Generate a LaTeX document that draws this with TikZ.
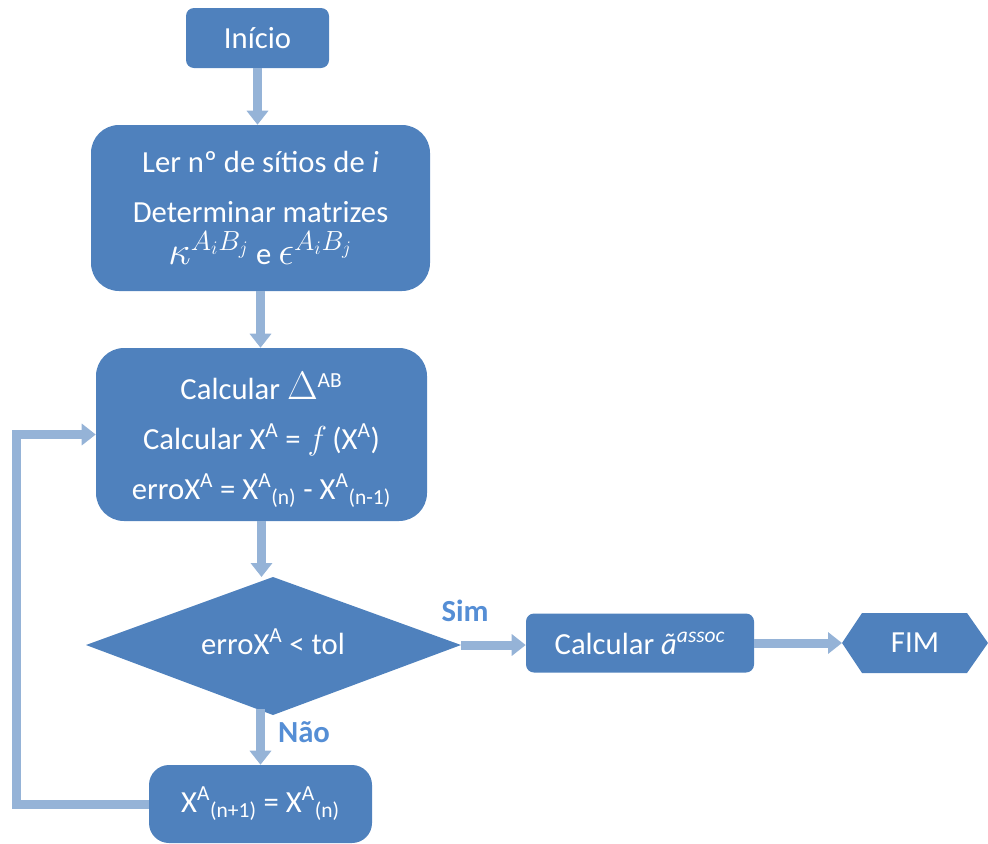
\documentclass[tikz,border=0pt]{standalone}
\usepackage{graphicx}
\usepackage{fontspec}
\setmainfont{Carlito}
\usetikzlibrary{arrows.meta}
\definecolor{boxblue}{HTML}{4F81BD}
\definecolor{arrowblue}{HTML}{95B3D7}
\definecolor{labelblue}{HTML}{558ED5}
\newcommand{\lgmath}[1]{\scalebox{1.2}{$#1$}}
\begin{document}
\begin{tikzpicture}[x=0.75pt,y=-0.75pt,
  box/.style={rectangle, rounded corners=#1, fill=boxblue, text=white, align=center, inner sep=0pt, font=\fontsize{23}{37.5}\selectfont},
  txt/.style={text=white, inner sep=0pt, font=\fontsize{23}{28}\selectfont},
  lab/.style={text=labelblue, inner sep=0pt, font=\fontsize{23}{28}\selectfont\bfseries},
  arr/.style={draw=arrowblue, line width=6.75pt, -{Triangle[width=15.75pt,length=10.5pt]}}]
\useasboundingbox (0,0) rectangle (988,843);
% nodes
\node[box=6pt, minimum width=107.25pt, minimum height=45pt] (ini) at (257.5,38) {\raisebox{-2.5pt}{Início}};
\node[box=21pt, minimum width=254.25pt, minimum height=124.5pt] (ler) at (260.5,208)
  {Ler nº de sítios de \textit{i}\\Determinar matrizes\\[-6pt]\lgmath{\kappa^{A_iB_j}} e \lgmath{\epsilon^{A_iB_j}}};
\node[box=21pt, minimum width=248.25pt, minimum height=129.75pt] (calc) at (261.5,434.5)
  {\rule{0pt}{29pt}Calcular \lgmath{\Delta}\textsuperscript{AB}\\Calcular X\textsuperscript{A} = $f$\,(X\textsuperscript{A})\\erroX\textsuperscript{A} = X\textsuperscript{A}\textsubscript{(n)} - X\textsuperscript{A}\textsubscript{(n-1)}};
% decision
\coordinate (dt) at (273,577);
\coordinate (dr) at (461,645);
\coordinate (db) at (273,715);
\coordinate (dl) at (86,645);
\path[fill=boxblue] (dt) -- (dr) -- (db) -- (dl) -- cycle;
\node[txt] (dtext) at (273,642) {erroX\textsuperscript{A} < tol};
\node[box=15pt, minimum width=167.25pt, minimum height=58.5pt] (upd) at (260.5,804)
  {X\textsuperscript{A}\textsubscript{(n+1)} = X\textsuperscript{A}\textsubscript{(n)}};
\node[box=6pt, minimum width=171pt, minimum height=44.25pt] (alpha) at (640,643)
  {Calcular {\itshape ã}\textsuperscript{\itshape assoc}};
% end hexagon
\coordinate (fl) at (842,643);
\path[fill=boxblue] (fl) -- (862,613) -- (967,613) -- (988,643) -- (967,673) -- (862,673) -- cycle;
\node[txt] (fim) at (915,643) {FIM};
% labels
\node[lab] (sim) at (465,611) {Sim};
\node[lab] (nao) at (304,732) {Não};
% connectors
\coordinate (dbx) at (260.5,709);
\coordinate (lp) at (16,804);
\draw[arr] (ini.south) -- (ini.south |- ler.north);
\draw[arr] (ler.south) -- (ler.south |- calc.north);
\draw[arr] (calc.south) -- (calc.south |- dt);
\draw[arr] (dr) -- (dr -| alpha.west);
\draw[arr] (alpha.east) -- (fl);
\draw[arr] (dbx) -- (upd.north);
\draw[arr] (upd.west) -- (lp) |- (calc.west);
\end{tikzpicture}
\end{document}
